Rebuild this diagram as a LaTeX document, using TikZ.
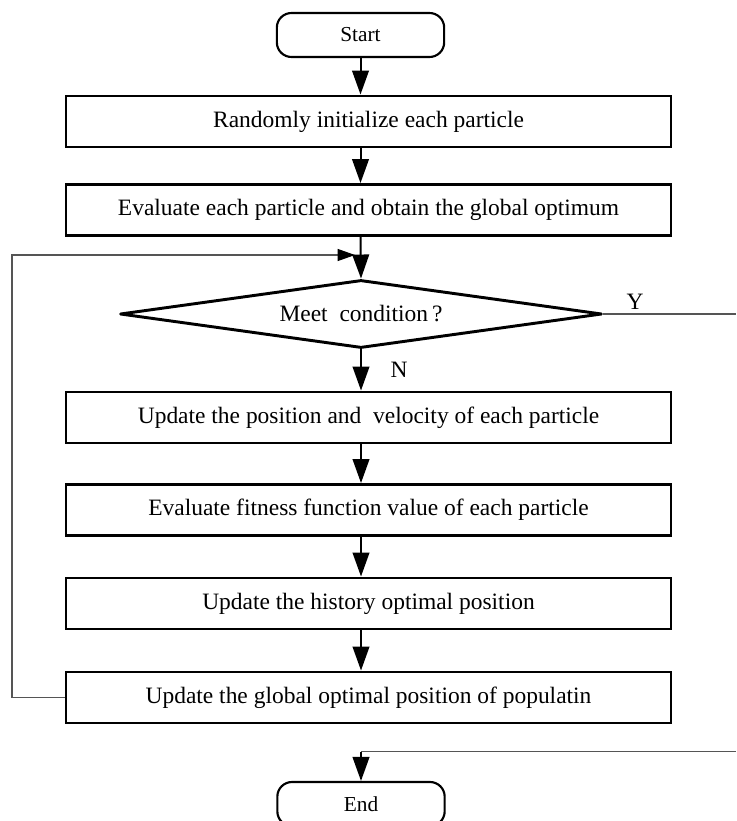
\documentclass[tikz,border=0pt]{standalone}
\usepackage{fontspec}
\setmainfont{Liberation Serif}
\usepackage{tikz}
\usetikzlibrary{shapes.geometric,arrows.meta,positioning,calc}
\definecolor{FlowBlack}{HTML}{000000}
\definecolor{FlowWhite}{HTML}{ffffff}
\definecolor{FlowGray}{HTML}{555555}
\tikzset{
    % Base node style
    basenode/.style={
        draw=FlowBlack,
        fill=FlowWhite,
        line width=2.2pt,
        inner sep=0pt,
        align=center,
        font=\fontsize{17.6}{20}\selectfont
    },
    % Start / End style
    termnode/.style={
        basenode,
        line width=1.6pt,
        rounded corners=11pt,
        minimum width=125.5pt,
        minimum height=33pt,
        font=\fontsize{16}{18}\selectfont
    },
    % Process box style
    stepbox/.style={
        basenode,
        minimum width=453.75pt,
        minimum height=38.25pt
    },
    % Decision style
    decnode/.style={
        basenode,
        diamond,
        aspect=7,
        line join=round,
        minimum width=361.5pt,
        minimum height=51pt
    },
    % Arrow styles (straight lines only)
    myarrow/.style={
        -{Triangle[length=18pt,width=12.5pt]},
        line width=1.5pt,
        draw=FlowBlack
    },
    % Thin return line
    thinarrow/.style={
        -{Triangle[length=13pt,width=9pt,color=FlowBlack]},
        line width=0.8pt,
        draw=FlowGray
    },
    thinline/.style={
        line width=0.8pt,
        draw=FlowGray
    },
    % Branch label
    labelnode/.style={
        font=\fontsize{17.6}{20}\selectfont,
        inner sep=0pt
    }
}
\begin{document}
\begin{tikzpicture}[x=0.75pt, y=-0.75pt]
    \useasboundingbox (0,0) rectangle (736,821);

    \node[termnode] (start) at (360.5,35) {Start};

    \node[stepbox] (init) at (368.5,121.5) {Randomly initialize each particle};
    \node[stepbox] (eval) at (368.5,210) {Evaluate each particle and obtain the global optimum};

    \node[decnode] (cond) at (361,314) {Meet~~condition\,?};

    \node[stepbox] (upd) at (368.5,417.5) {Update the position and~~velocity of each particle};
    \node[stepbox] (fit) at (368.5,510) {Evaluate fitness function value of each particle};
    \node[stepbox] (hist) at (368.5,603.5) {Update the history optimal position};
    \node[stepbox] (glob) at (368.5,697.5) {Update the global optimal position of populatin};

    \node[termnode] (end) at (361,804) {End};

    \coordinate (loopc) at (12,255);
    \coordinate (yout) at (736,314);
    \coordinate (yin) at (736,751.5);

    \node[labelnode] (ylab) at (635,302) {Y};
    \node[labelnode] (nlab) at (399,370) {N};

    \draw[myarrow] (start) -- (start |- init.north);
    \draw[myarrow] (init.south -| start) -- (eval.north -| start);
    \draw[myarrow] (eval.south -| start) -- (cond.north);
    \draw[myarrow] (cond.south) -- (cond.south |- upd.north);
    \draw[myarrow] (upd.south -| cond) -- (fit.north -| cond);
    \draw[myarrow] (fit.south -| cond) -- (hist.north -| cond);
    \draw[myarrow] (hist.south -| cond) -- (glob.north -| cond);

    \draw[thinarrow, shorten >=4.5pt] (glob.west) -- (glob.west -| loopc) -- (loopc) -- (loopc -| cond);
    \draw[thinline] (cond.east) -- (yout);
    \draw[thinline] (yin) -- (yin -| end);
    \draw[myarrow] (yin -| end) -- (end.north);
\end{tikzpicture}
\end{document}
